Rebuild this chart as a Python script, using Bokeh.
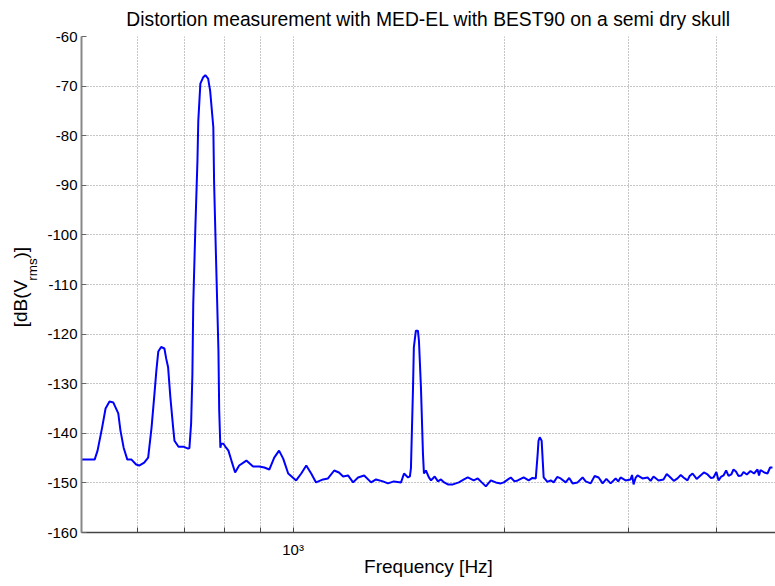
from bokeh.plotting import figure
from bokeh.models import FixedTicker, Title, LinearAxis
from bokeh.embed import file_html
from bokeh.resources import INLINE

# ---- data (frequency in Hz, level in dB(Vrms)) ----
freq_hz = [
    500, 522, 527, 535, 541, 548, 555, 564, 568, 574, 581, 589, 598, 604, 614, 622,
    629, 635, 639, 643, 649, 656, 660, 664, 669, 675, 678, 687, 698, 709, 712, 716,
    719, 721, 726, 731, 733, 738, 745, 750, 757, 762, 770, 772, 777, 783, 785, 788,
    790, 796, 803, 809, 817, 827, 838, 858, 877, 895, 910, 925, 940, 955, 968, 984,
    1010, 1027, 1044, 1061, 1078, 1103, 1121, 1144, 1162, 1178, 1197, 1217, 1237,
    1262, 1291, 1312, 1342, 1364, 1391, 1424, 1438, 1457, 1466, 1471, 1481, 1485,
    1495, 1505, 1510, 1520, 1530, 1535, 1545, 1560, 1571, 1590, 1607, 1623, 1640,
    1660, 1688, 1721, 1750, 1772, 1807, 1831, 1855, 1880, 1911, 1942, 1974, 1994,
    2040, 2065, 2087, 2128, 2163, 2190, 2214, 2228, 2234, 2243, 2257, 2265, 2272,
    2300, 2325, 2348, 2375, 2402, 2442, 2470, 2498, 2539, 2581, 2607, 2650, 2685,
    2720, 2756, 2790, 2829, 2876, 2900, 2923, 2971, 3020, 3035, 3050, 3070, 3090,
    3141, 3193, 3225, 3256, 3310, 3364, 3400, 3442, 3480, 3522, 3560, 3592, 3639,
    3665, 3700, 3750, 3798, 3840, 3886, 3930, 3963, 4000, 4029, 4060, 4095, 4130,
    4163, 4200, 4231, 4265, 4301, 4340, 4372, 4420, 4473, 4525, 4577, 4600, 4622,
    4680, 4729, 4770, 4807, 4855,
]
level_db = [
    -145.3, -145.3, -143.5, -138.8, -135.0, -133.6, -133.8, -136.0, -139.4, -142.9,
    -145.3, -145.3, -146.3, -146.5, -145.9, -144.9, -138.8, -132.0, -127.3, -123.5,
    -122.6, -122.9, -125.0, -126.7, -132.8, -138.8, -141.5, -142.7, -142.7, -143.1,
    -143.0, -138.0, -128.0, -114.0, -98.5, -85.0, -77.0, -69.5, -68.2, -67.8, -68.5,
    -70.9, -78.3, -89.6, -105.2, -123.3, -135.4, -142.9, -142.1, -142.1, -142.9,
    -143.5, -145.5, -147.9, -146.5, -145.5, -146.7, -146.7, -146.9, -147.3, -144.9,
    -143.5, -145.1, -148.1, -149.5, -148.1, -146.5, -148.1, -149.9, -149.3, -149.1,
    -147.5, -147.9, -148.7, -148.5, -149.9, -148.9, -148.5, -149.9, -149.3, -149.7,
    -150.1, -149.7, -149.9, -148.1, -148.9, -148.7, -147.0, -130.8, -122.7, -119.3,
    -119.3, -121.3, -130.8, -144.1, -148.1, -147.5, -148.9, -149.5, -148.7, -149.7,
    -149.3, -149.9, -150.3, -150.3, -149.9, -149.3, -148.9, -149.5, -149.1, -149.9,
    -150.7, -149.5, -149.9, -150.1, -149.9, -148.9, -149.7, -149.5, -148.9, -149.5,
    -149.0, -149.1, -144.1, -141.5, -140.8, -141.5, -145.5, -148.9, -149.8, -149.5,
    -149.9, -148.8, -149.1, -149.9, -149.0, -150.1, -149.9, -148.9, -149.7, -150.1,
    -148.6, -148.9, -150.1, -149.2, -150.1, -149.1, -149.7, -148.9, -149.5, -149.3,
    -148.4, -150.3, -149.0, -148.5, -149.1, -148.9, -149.6, -148.7, -149.5, -149.3,
    -148.2, -148.9, -149.6, -149.1, -148.4, -148.9, -149.5, -148.6, -148.1, -149.2,
    -148.5, -147.9, -148.3, -149.0, -148.9, -147.8, -149.5, -148.8, -148.5, -147.5,
    -148.6, -148.3, -147.3, -147.7, -148.6, -148.5, -147.8, -148.3, -147.6, -148.1,
    -147.3, -148.5, -147.4, -147.9, -148.1, -146.9, -146.9,
]

y_ticks = [-160, -150, -140, -130, -120, -110, -100, -90, -80, -70, -60]
y_tick_text = {t: str(t) for t in y_ticks}
x_ticks = [600, 700, 800, 900, 1000, 2000, 3000, 4000]
x_tick_text = {600: "", 700: "", 800: "", 900: "", 1000: "10\u00b3",
               2000: "", 3000: "", 4000: ""}

title_text = "Distortion measurement with MED-EL with BEST90 on a semi dry skull"
x_label = "Frequency [Hz]"
NB = "\u00a0"
# y label "[dB(V_rms)]": main part and subscript drawn as two axis labels
y_label_main = "[dB(V" + NB * 4 + ")]" + NB
y_label_sub = NB * 8 + "rms"

FONT = "Liberation Sans"
W, H = 775, 586

p = figure(width=W, height=H, x_axis_type="log",
           x_range=(500, 4855), y_range=(-160, -60),
           output_backend="svg", toolbar_location=None, title=None,
           min_border_left=81, min_border_right=0, min_border_top=36,
           min_border_bottom=54)
p.outline_line_color = None
p.background_fill_color = "white"
p.border_fill_color = "white"

p.line(freq_hz, level_db, line_color="#0000ff", line_width=2)

# title
p.add_layout(Title(text=title_text, align="center", text_font=FONT,
                   text_font_size="19.3px", text_font_style="normal",
                   text_color="#000000", standoff=12,
                   vertical_align="middle"), "above")

# x axis
xa = p.xaxis[0]
xa.ticker = FixedTicker(ticks=x_ticks)
xa.major_label_overrides = x_tick_text
xa.minor_tick_line_color = None
xa.major_tick_in = 5
xa.major_tick_out = 0
xa.major_tick_line_color = "#444444"
xa.axis_line_color = "#444444"
xa.axis_line_width = 1.5
xa.major_label_text_font = FONT
xa.major_label_text_font_size = "15px"
xa.major_label_text_color = "#000000"
xa.major_label_standoff = 8
xa.axis_label = x_label
xa.axis_label_text_font = FONT
xa.axis_label_text_font_size = "19px"
xa.axis_label_text_font_style = "normal"
xa.axis_label_text_color = "#000000"
xa.axis_label_standoff = -5

# y axis (carries the subscript part of the label)
ya = p.yaxis[0]
ya.ticker = FixedTicker(ticks=y_ticks)
ya.major_label_overrides = y_tick_text
ya.minor_tick_line_color = None
ya.major_tick_in = 5
ya.major_tick_out = 0
ya.major_tick_line_color = "#666666"
ya.axis_line_color = "#888888"
ya.axis_line_width = 2
ya.major_label_text_font = FONT
ya.major_label_text_font_size = "15px"
ya.major_label_text_color = "#000000"
ya.major_label_standoff = 4
ya.axis_label = y_label_sub
ya.axis_label_text_font = FONT
ya.axis_label_text_font_size = "13.5px"
ya.axis_label_text_font_style = "normal"
ya.axis_label_text_color = "#000000"
ya.axis_label_standoff = 4

# outer label-only axis carrying the main part of the y label
ya2 = LinearAxis(ticker=FixedTicker(ticks=[]), axis_line_color=None,
                 major_tick_line_color=None, minor_tick_line_color=None,
                 major_tick_in=0, major_tick_out=0, major_label_standoff=0,
                 axis_label=y_label_main, axis_label_text_font=FONT,
                 axis_label_text_font_size="19px",
                 axis_label_text_font_style="normal",
                 axis_label_text_color="#000000", axis_label_standoff=-8)
p.add_layout(ya2, "left")

# grid
p.xgrid.ticker = FixedTicker(ticks=x_ticks)
p.ygrid.ticker = FixedTicker(ticks=y_ticks)
for g in (p.xgrid[0], p.ygrid[0]):
    g.grid_line_color = "#8c8c8c"
    g.grid_line_dash = "1 2"
    g.grid_line_width = 1

open("out.html", "w").write(file_html(p, INLINE))
